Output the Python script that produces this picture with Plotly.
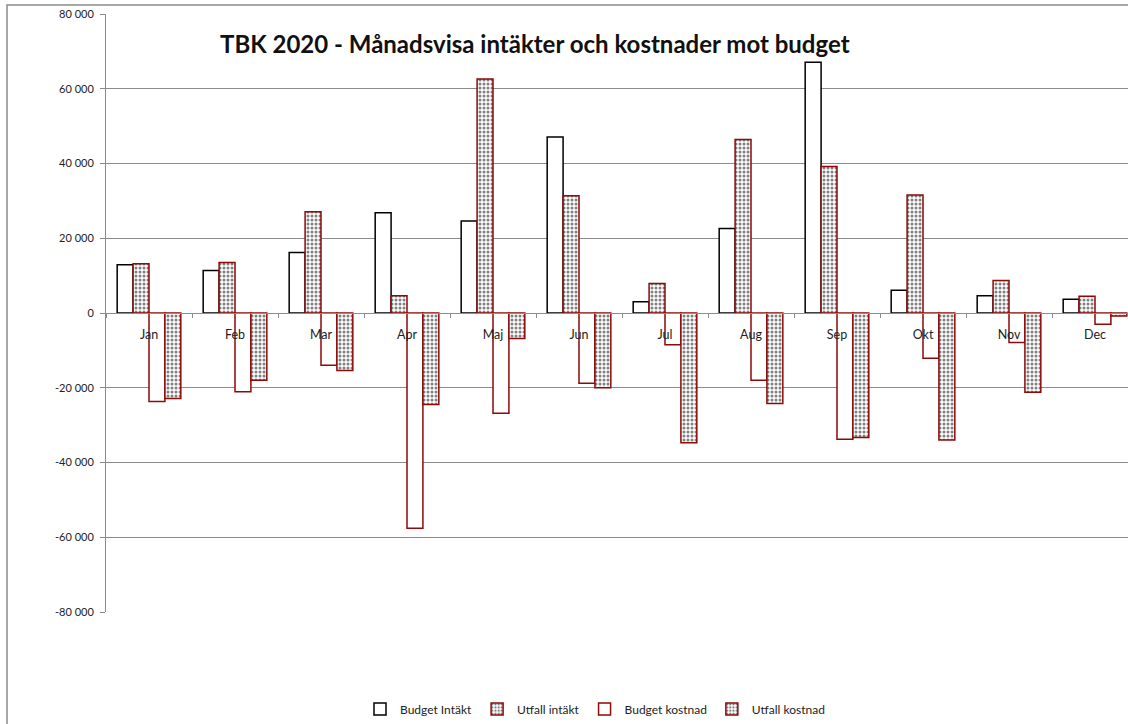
import plotly.graph_objects as go

months = ["Jan", "Feb", "Mar", "Apr", "Maj", "Jun", "Jul", "Aug", "Sep", "Okt", "Nov", "Dec"]
budget_intakt = [12900, 11400, 16200, 26800, 24600, 47100, 3000, 22600, 67100, 6100, 4600, 3700]
utfall_intakt = [13200, 13500, 27100, 4600, 62600, 31400, 7900, 46400, 39200, 31600, 8700, 4500]
budget_kostnad = [-23700, -21100, -14000, -57600, -26800, -18800, -8500, -18000, -33800, -12100, -7900, -3000]
utfall_kostnad = [-22900, -18000, -15400, -24500, -6800, -20000, -34700, -24200, -33300, -34000, -21200, -800]

y_tick_vals = [-80000, -60000, -40000, -20000, 0, 20000, 40000, 60000, 80000]
y_tick_text = ["-80 000", "-60 000", "-40 000", "-20 000", "0", "20 000", "40 000", "60 000", "80 000"]

series_names = ["Budget Intäkt", "Utfall intäkt", "Budget kostnad", "Utfall kostnad"]

DARKRED = "#8c0a0a"
FONT = "Lato"

W, H = 1128, 724
ML, MT, MB = 106, 14, 112
MR = 0
plot_w = W - ML - MR
plot_h = H - MT - MB
cat_px = 86.0

fig = go.Figure()

def add_bar(name, vals, line_color, patterned):
    marker = dict(color="white", line=dict(color=line_color, width=1.5))
    if patterned:
        marker["pattern"] = dict(shape=".", fgcolor="#000000", bgcolor="white",
                                 size=4, solidity=0.45, fillmode="overlay")
    fig.add_trace(go.Bar(x=months, y=vals, name=name, marker=marker))

add_bar(series_names[0], budget_intakt, "#000000", False)
add_bar(series_names[1], utfall_intakt, DARKRED, True)
add_bar(series_names[2], budget_kostnad, DARKRED, False)
add_bar(series_names[3], utfall_kostnad, DARKRED, True)

fig.update_layout(
    width=W, height=H,
    margin=dict(l=ML, r=MR, t=MT, b=MB, pad=0),
    paper_bgcolor="white", plot_bgcolor="white",
    barmode="group", bargap=0.26, bargroupgap=0.0,
    font=dict(family=FONT, size=12, color="#222222"),
    showlegend=True,
    legend=dict(orientation="h", x=(595 - ML) / plot_w, xanchor="center",
                y=(MT + plot_h - 709) / plot_h, yanchor="middle",
                font=dict(family=FONT, size=12, color="#222222"),
                itemwidth=30, traceorder="normal", bgcolor="rgba(0,0,0,0)"),
    title=dict(text="<b>TBK 2020 - Månadsvisa intäkter och kostnader mot budget</b>",
               x=220 / W, xanchor="left", xref="container",
               y=1 - 45 / H, yanchor="middle", yref="container",
               font=dict(family=FONT, size=24, color="#111111")),
)

fig.update_yaxes(
    range=[-80000, 80000], tickvals=y_tick_vals, ticktext=y_tick_text,
    showgrid=True, gridcolor="#8c8c8c", gridwidth=1,
    zeroline=False, showline=True, linecolor="#8c8c8c", linewidth=1,
    ticks="outside", ticklen=5, tickcolor="#8c8c8c",
    tickfont=dict(family=FONT, size=11, color="#222222"),
    ticklabelstandoff=4,
)

fig.update_xaxes(
    type="category", range=[-0.5, -0.5 + plot_w / cat_px],
    anchor="free", position=0.5,
    showline=True, linecolor="#8c8c8c", linewidth=1,
    ticks="outside", ticklen=4, tickcolor="#8c8c8c", tickson="boundaries",
    showgrid=False, zeroline=False,
    tickfont=dict(family=FONT, size=12.5, color="#222222"),
    ticklabelstandoff=10,
)

# outer chart border (extends beyond the visible window on right and bottom)
fig.add_shape(type="rect", xref="paper", yref="paper",
              x0=(7 - ML) / plot_w, x1=1.2,
              y0=-0.5, y1=1 + (MT - 5) / plot_h,
              line=dict(color="#8c8c8c", width=1.5), fillcolor="rgba(0,0,0,0)",
              layer="below")

fig.write_html("out.html", config={"displayModeBar": False},
               post_script="document.body.style.margin='0';document.body.style.overflow='hidden';")
